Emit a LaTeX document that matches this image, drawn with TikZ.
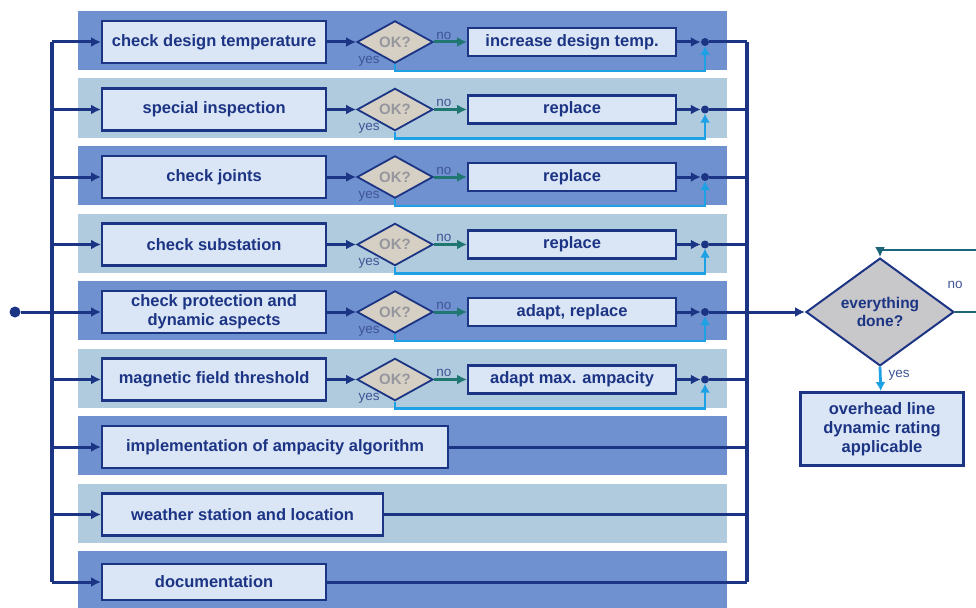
\documentclass[tikz,border=0pt]{standalone}
\usepackage{fontspec}
\setmainfont{Liberation Sans}
\usetikzlibrary{shapes.geometric,arrows.meta}

\definecolor{navy}{RGB}{28,52,132}
\definecolor{banddark}{RGB}{112,145,208}
\definecolor{bandlight}{RGB}{176,203,222}
\definecolor{boxfill}{RGB}{218,229,246}
\definecolor{okfill}{RGB}{214,208,196}
\definecolor{okgray}{RGB}{150,150,158}
\definecolor{donefill}{RGB}{200,200,202}
\definecolor{nogreen}{RGB}{32,118,112}
\definecolor{loopteal}{RGB}{28,100,120}
\definecolor{yesblue}{RGB}{30,160,228}
\definecolor{lblblue}{RGB}{62,84,150}

\begin{document}
\begin{tikzpicture}[x=1pt, y=-1pt,
    task/.style={rectangle, draw=navy, line width=2.2pt, fill=boxfill, text=navy,
        font=\fontsize{16.5}{19}\selectfont\bfseries, align=center,
        minimum height=42pt, inner sep=0pt, anchor=west},
    fix/.style={task, minimum width=208pt, minimum height=28pt},
    okay/.style={diamond, draw=navy, line width=1.8pt, fill=okfill, text=okgray,
        font=\fontsize{15}{15}\selectfont\bfseries, minimum width=76pt, minimum height=27pt, inner sep=0pt},
    done/.style={diamond, draw=navy, line width=2pt, fill=donefill, text=navy,
        font=\fontsize{15.5}{18}\selectfont\bfseries, align=center,
        minimum width=148pt, minimum height=70pt, inner sep=0pt},
    result/.style={task, anchor=center, line width=3pt, minimum width=163pt, minimum height=73pt},
    joint/.style={circle, fill=navy, inner sep=0pt, minimum size=8pt},
    flow/.style={draw=navy, line width=3pt},
    bus/.style={draw=navy, line width=3.6pt},
    arr/.style={flow, -{Latex[length=10pt,width=10pt]}},
    noarr/.style={draw=nogreen, line width=3pt, -{Latex[length=10pt,width=10pt]}},
    yesarr/.style={draw=yesblue, line width=2.8pt, -{Latex[length=9pt,width=10pt]}},
    looparr/.style={draw=loopteal, line width=2.8pt, -{Latex[length=10pt,width=10pt]}},
    lbl/.style={font=\fontsize{13.5}{14}\selectfont, text=lblblue, inner sep=1pt}
]
\useasboundingbox (0,0) rectangle (976,607);
\clip (0,0) rectangle (976,607);

% Bands
\foreach \i [evaluate=\i as \y using 42+67.5*(\i-1)] in {1,...,9}{
    \ifodd\i \def\bandcol{banddark}\else \def\bandcol{bandlight}\fi
    \fill[\bandcol] (78,\y-31) rectangle (727,\y+28);
}

% Checked tasks
\foreach \i/\task/\fixtext in {1/{check design temperature}/{increase design temp.},
    2/{special inspection}/{replace}, 3/{check joints}/{replace},
    4/{check substation}/{replace}, 5/{check protection and\\dynamic aspects}/{adapt, replace},
    6/{magnetic field threshold}/{adapt max. ampacity}}{
    \pgfmathsetmacro\y{42+67.5*(\i-1)}
    \coordinate (l\i) at (52,\y);
    \coordinate (r\i) at (747,\y);
    \node[task, minimum width=224pt] (task\i) at (101,\y) {\task};
    \node[okay] (ok\i) at (395,\y) {OK?};
    \node[fix] (fix\i) at (467,\y) {\fixtext};
    \node[joint] (j\i) at (705,\y) {};
    \node[lbl] (yes\i) at (369,\y+19) {yes};
    \draw[arr] (l\i) -- (task\i);
    \draw[arr] (task\i) -- (ok\i);
    \draw[noarr] (ok\i) -- node[lbl, above, pos=0.3] (no\i) {no} (fix\i);
    \draw[arr] (fix\i) -- (j\i);
    \draw[yesarr] (ok\i.south) -- ++(0,7) -| (j\i);
    \draw[flow] (j\i) -- (r\i);
}

% Plain tasks
\foreach \i/\task/\w/\h in {7/{implementation of ampacity algorithm}/346/42,
    8/{weather station and location}/281/42, 9/{documentation}/224/36}{
    \pgfmathsetmacro\y{42+67.5*(\i-1)}
    \coordinate (l\i) at (52,\y);
    \coordinate (r\i) at (747,\y);
    \node[task, minimum width=\w pt, minimum height=\h pt] (task\i) at (101,\y) {\task};
    \draw[arr] (l\i) -- (task\i);
    \draw[flow] (task\i) -- (r\i);
}

% Buses
\node[joint, minimum size=11pt] (start) at (15,312) {};
\draw[flow] (start) -- (l5);
\draw[bus] (l1) -- (l9);
\draw[bus] (r1) -- (r9);

% Final check
\node[done] (done) at (880,312) {everything\\done?};
\node[result] (result) at (882,429) {overhead line\\dynamic rating\\applicable};
\draw[arr] (r5) -- (done);
\coordinate (loopa) at (995,312);
\coordinate (loopb) at (995,250);
\draw[looparr] (done.east) -- (loopa) -- (loopb) -| (done.north);
\node[lbl] (nodone) at (955,285) {no};
\draw[yesarr] (done.south) -- node[lbl, right=6pt, pos=0.35] (yesdone) {yes} (result);

\end{tikzpicture}
\end{document}
